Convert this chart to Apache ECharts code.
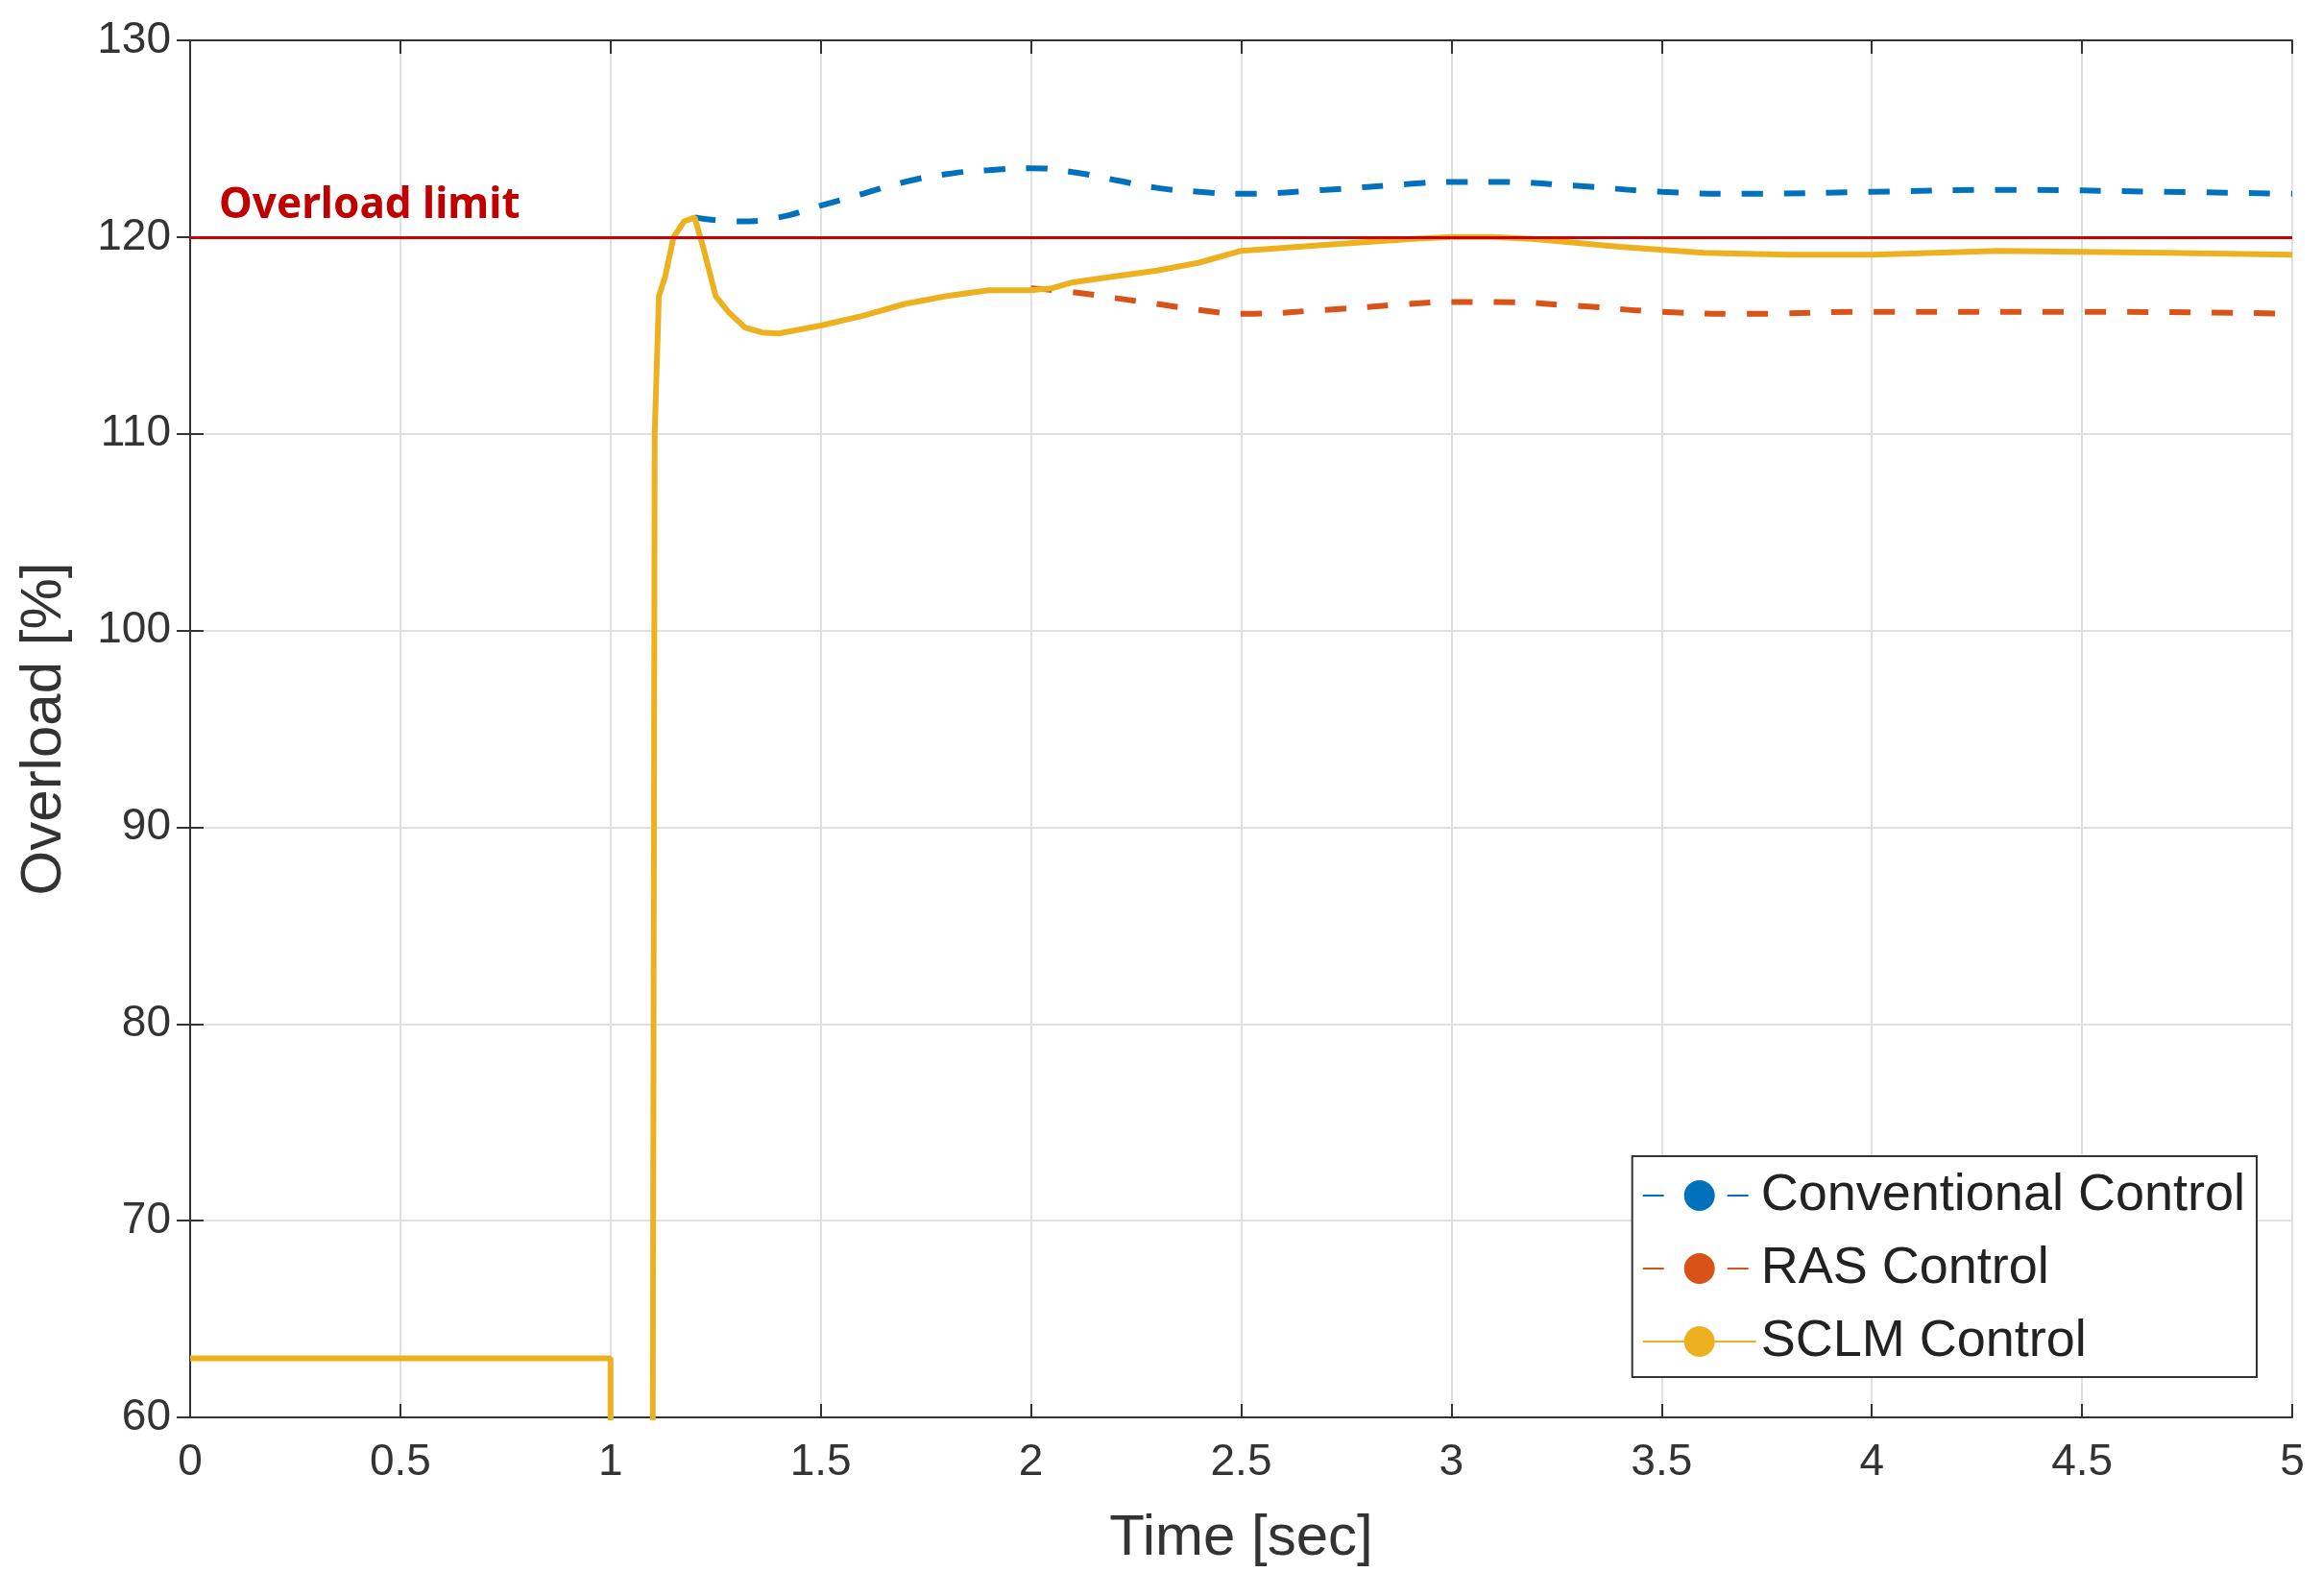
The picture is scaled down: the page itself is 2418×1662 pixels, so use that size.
<!DOCTYPE html>
<html><head><meta charset="utf-8">
<script src="https://cdn.jsdelivr.net/npm/echarts@6/dist/echarts.min.js"></script>
<style>html,body{margin:0;background:#fff}#c{width:2418px;height:1662px}</style>
</head><body><div id="c"></div>
<script>
const sclm = [[0,63],[1.0,63],[1.0,55],[1.1,55],[1.105,110],[1.115,117],[1.13,118],[1.15,120],[1.175,120.8],[1.2,121],[1.22,119.5],[1.25,117],[1.28,116.2],[1.32,115.4],[1.36,115.15],[1.4,115.1],[1.5,115.5],[1.6,116],[1.7,116.6],[1.8,117],[1.9,117.3],[2.0,117.3],[2.05,117.4],[2.1,117.7],[2.2,118],[2.3,118.3],[2.4,118.7],[2.5,119.3],[2.7,119.6],[2.9,119.9],[3.0,120],[3.1,120],[3.2,119.9],[3.4,119.5],[3.6,119.2],[3.8,119.1],[4.0,119.1],[4.3,119.3],[4.7,119.2],[5.0,119.1]];
const conv = [[1.2,121],[1.3,120.8],[1.4,121],[1.5,121.6],[1.6,122.2],[1.7,122.8],[1.8,123.2],[1.9,123.4],[2.0,123.5],[2.1,123.3],[2.2,122.9],[2.3,122.5],[2.4,122.3],[2.5,122.2],[2.7,122.4],[2.9,122.7],[3.0,122.8],[3.1,122.8],[3.3,122.6],[3.5,122.3],[3.7,122.2],[4.0,122.3],[4.3,122.4],[4.7,122.3],[5.0,122.2]];
const ras = [[2.0,117.4],[2.1,117.2],[2.2,116.9],[2.3,116.6],[2.4,116.3],[2.5,116.1],[2.7,116.3],[2.9,116.6],[3.0,116.7],[3.1,116.7],[3.3,116.5],[3.5,116.2],[3.7,116.1],[4.0,116.2],[4.5,116.2],[5.0,116.1]];
const limit = 120;
const font = 'Liberation Sans';
const ax = {type:'value', axisLine:{show:true,lineStyle:{color:'#333',width:2}}, axisTick:{show:true,inside:true,length:14,lineStyle:{color:'#333',width:2}}, splitLine:{show:true,lineStyle:{color:'#e0e0e0',width:2}}, axisLabel:{color:'#333',fontSize:46,fontFamily:font}};
const chart = echarts.init(document.getElementById('c'));
chart.setOption({
  animation:false,
  grid:{left:198,right:31,top:42,bottom:186},
  xAxis:[Object.assign({},ax,{min:0,max:5,interval:0.5,name:'Time [sec]',nameLocation:'middle',nameGap:96,nameTextStyle:{fontSize:60,color:'#333',fontFamily:font},axisLabel:Object.assign({},ax.axisLabel,{margin:24})}),
         Object.assign({},ax,{min:0,max:5,interval:0.5,position:'top',axisLabel:{show:false},splitLine:{show:false}})],
  yAxis:[Object.assign({},ax,{min:60,max:130,interval:10,name:'Overload [%]',nameLocation:'middle',nameGap:122,nameTextStyle:{fontSize:60,color:'#333',fontFamily:font},axisLabel:Object.assign({},ax.axisLabel,{margin:20})}),
         Object.assign({},ax,{min:60,max:130,interval:10,position:'right',axisLabel:{show:false},splitLine:{show:false}})],
  legend:{orient:'vertical',right:68,bottom:228,data:['Conventional Control','RAS Control','SCLM Control'],backgroundColor:'#fff',borderColor:'#333',borderWidth:2,padding:[14,12,10,10],itemGap:22,itemWidth:118,itemHeight:40,textStyle:{fontSize:54,color:'#222',fontFamily:font}},
  series:[
    {name:'Conventional Control',type:'line',data:conv,symbol:'none',smooth:true,lineStyle:{color:'#0072BD',width:6,type:[22,22]},itemStyle:{color:'#0072BD'},z:3},
    {name:'RAS Control',type:'line',data:ras,symbol:'none',smooth:true,lineStyle:{color:'#D95319',width:6,type:[22,22]},itemStyle:{color:'#D95319'},z:3},
    {name:'SCLM Control',type:'line',data:sclm,symbol:'none',lineStyle:{color:'#EDB120',width:6},itemStyle:{color:'#EDB120'},clip:true,z:4},
    {name:'limit',type:'line',data:[],markLine:{silent:true,symbol:'none',lineStyle:{color:'#CC0000',width:3,type:'solid'},label:{show:true,position:'insideStartTop',formatter:'Overload limit',color:'#C00000',fontWeight:'bold',fontSize:44,fontFamily:'Noto Sans',distance:[30,10]},data:[{yAxis:limit}]}}
  ]
});
</script></body></html>
